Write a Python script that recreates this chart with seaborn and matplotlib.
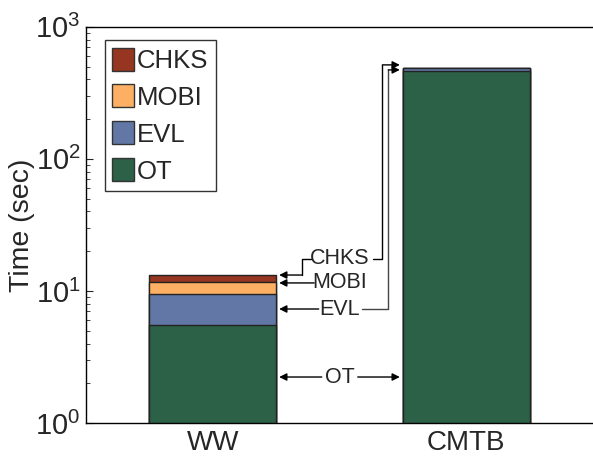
import matplotlib
matplotlib.use("Agg")
import matplotlib.pyplot as plt
import seaborn as sns
import numpy as np
import pandas as pd
from matplotlib.patches import Patch
from matplotlib.ticker import LogLocator, NullFormatter

# ---- data ----
categories = ["WW", "CMTB"]
components = ["OT", "EVL", "MOBI", "CHKS"]
ot_vals = [5.53, 465.0]
evl_vals = [3.9, 26.0]
mobi_vals = [2.3, 0.6]
chks_vals = [1.45, 0.4]
colors = {"OT": "#2C6148", "EVL": "#6277A5", "MOBI": "#FDAF64", "CHKS": "#963520"}
ytick_vals = [1, 10, 100, 1000]

sns.set_style("ticks")
plt.rcParams["font.family"] = ["Liberation Sans", "DejaVu Sans"]
plt.rcParams["mathtext.fontset"] = "custom"
plt.rcParams["mathtext.rm"] = "Liberation Sans"
plt.rcParams["mathtext.it"] = "Liberation Sans:italic"
plt.rcParams["mathtext.bf"] = "Liberation Sans:bold"

fig = plt.figure(figsize=(5.93, 4.58), dpi=100)
ax = fig.add_axes([0.145, 0.0764, 0.855, 0.865])

series = {"OT": ot_vals, "EVL": evl_vals, "MOBI": mobi_vals, "CHKS": chks_vals}
cum = np.cumsum(np.array([series[c] for c in components]), axis=0)

# draw from the top-most cumulative total down so each segment is visible
for i in range(len(components) - 1, -1, -1):
    df = pd.DataFrame({"cat": categories, "val": cum[i]})
    sns.barplot(data=df, x="cat", y="val", ax=ax, color=colors[components[i]],
                width=0.5, edgecolor="#222222", linewidth=1.0, saturation=1)

ax.set_yscale("log")
ax.set_ylim(1, 1000)
ax.set_xlim(-0.5, 1.5)
ax.set_yticks(ytick_vals)
ax.yaxis.set_minor_locator(LogLocator(base=10, subs=np.arange(2, 10)))
ax.yaxis.set_minor_formatter(NullFormatter())
ax.set_xlabel("")
ax.set_ylabel("Time (sec)", fontsize=20.5, labelpad=0)
ax.tick_params(axis="y", which="major", direction="in", length=5, width=0.8, labelsize=21, pad=4)
ax.tick_params(axis="y", which="minor", direction="in", length=3, width=0.6)
ax.tick_params(axis="x", length=0, labelsize=20, pad=5)
for s in ["left", "bottom", "top"]:
    ax.spines[s].set_linewidth(1.0)
    ax.spines[s].set_color("black")
ax.spines["right"].set_visible(False)

# legend
handles = [Patch(facecolor=colors[c], edgecolor="#333333", label=c) for c in ["CHKS", "MOBI", "EVL", "OT"]]
leg = ax.legend(handles=handles, loc="upper left", bbox_to_anchor=(0.037, 0.967),
                fontsize=18.5, frameon=True, fancybox=False, edgecolor="black",
                handlelength=0.85, handleheight=1.0, handletextpad=0.1,
                borderpad=0.3, labelspacing=0.45, borderaxespad=0.0)
leg.get_frame().set_linewidth(1.0)

# ---- annotations ----
gap = 0.012
xL = 0 + 0.25 + gap
xR = 1 - 0.25 - gap
tx = 0.5
fs = 15.5
arrow = dict(arrowstyle="-|>", color="black", lw=1.0, mutation_scale=11, shrinkA=0, shrinkB=0)
lk = dict(color="black", lw=1.0)

# CHKS
ax.text(tx, 17.5, "CHKS", ha="center", va="center", fontsize=fs)
ax.plot([0.386, 0.351, 0.351], [17.5, 17.5, 13.2], **lk)
ax.annotate("", xy=(xL, 13.2), xytext=(0.351, 13.2), arrowprops=arrow)
ax.plot([0.633, 0.669, 0.669], [17.5, 17.5, 515], **lk)
ax.annotate("", xy=(xR, 515), xytext=(0.669, 515), arrowprops=arrow)

# MOBI
ax.text(tx, 11.5, "MOBI", ha="center", va="center", fontsize=fs)
ax.annotate("", xy=(xL, 11.5), xytext=(0.400, 11.5), arrowprops=arrow)

# EVL
ax.text(tx, 7.3, "EVL", ha="center", va="center", fontsize=fs)
ax.annotate("", xy=(xL, 7.3), xytext=(0.418, 7.3), arrowprops=arrow)
ax.plot([0.588, 0.692, 0.692], [7.3, 7.3, 472], color="#444444", lw=1.0)
ax.annotate("", xy=(xR, 472), xytext=(0.692, 472), arrowprops=arrow)

# OT
ax.text(tx, 2.23, "OT", ha="center", va="center", fontsize=fs)
ax.annotate("", xy=(xL, 2.23), xytext=(0.43, 2.23), arrowprops=arrow)
ax.annotate("", xy=(xR, 2.23), xytext=(0.572, 2.23), arrowprops=arrow)

fig.savefig("out.png", dpi=100)
